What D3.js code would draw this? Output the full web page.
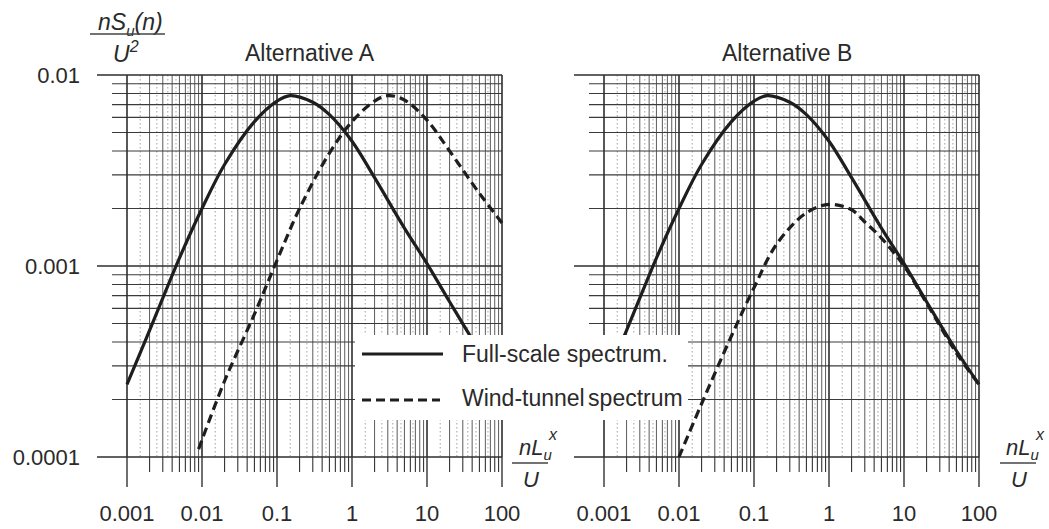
<!DOCTYPE html>
<html>
<head>
<meta charset="utf-8">
<script src="https://cdn.jsdelivr.net/npm/d3@7/dist/d3.min.js"></script>
<style>
  html, body { margin: 0; padding: 0; background: #fff; }
  svg { display: block; font-family: "Liberation Sans", Arial, Helvetica, sans-serif; }
</style>
</head>
<body>
<svg id="chart" width="1049" height="529"></svg>
<script>
// ---------------- data ----------------
const panelTitles = ["Alternative A", "Alternative B"];
const xTickValues = [0.001, 0.01, 0.1, 1, 10, 100];
const xTickLabels = ["0.001", "0.01", "0.1", "1", "10", "100"];
const yTickValues = [0.0001, 0.001, 0.01];
const yTickLabels = ["0.0001", "0.001", "0.01"];

// full-scale spectrum (same in both panels)
const fullScaleX = [0.001, 0.002, 0.005, 0.01, 0.02, 0.05, 0.1, 0.15, 0.3, 0.5, 1, 2, 5, 10, 20, 50, 100];
const fullScaleY = [0.00024, 0.00046, 0.0011, 0.002, 0.0034, 0.0057, 0.0073, 0.0078, 0.0072, 0.0062, 0.0045, 0.0029, 0.00158, 0.00103, 0.00065, 0.00036, 0.00024];

// wind-tunnel spectrum, alternative A
const tunnelAX = [0.009, 0.02, 0.05, 0.1, 0.2, 0.5, 1, 2, 3, 5, 10, 20, 50, 100];
const tunnelAY = [0.00011, 0.00025, 0.00056, 0.00107, 0.002, 0.0039, 0.0057, 0.0073, 0.0078, 0.0074, 0.0058, 0.004, 0.0024, 0.00168];

// wind-tunnel spectrum, alternative B
const tunnelBX = [0.01, 0.02, 0.05, 0.1, 0.2, 0.5, 1, 2, 3, 5, 10, 20, 50, 100];
const tunnelBY = [0.0001, 0.00019, 0.00043, 0.00077, 0.0013, 0.0019, 0.0021, 0.00197, 0.0017, 0.0014, 0.001, 0.00064, 0.00035, 0.00024];

const legendLabels = ["Full-scale spectrum.", "Wind-tunnel spectrum"];

// ---------------- drawing ----------------
const svg = d3.select("#chart");
const FONT = "'Liberation Sans', Arial, Helvetica, sans-serif";
const TXT = "#2a2a2a";
const INK = "#1e1e1e";

const yScale = d3.scaleLog().domain([0.0001, 0.01]).range([457, 75]);
const panels = [
  { left: 127, right: 502, tunnelX: tunnelAX, tunnelY: tunnelAY, yLabels: true },
  { left: 604, right: 979, tunnelX: tunnelBX, tunnelY: tunnelBY, yLabels: false }
];

const decades = [0.001, 0.01, 0.1, 1, 10];
const yDecades = [0.0001, 0.001];

panels.forEach((p, i) => {
  const x = d3.scaleLog().domain([0.001, 100]).range([p.left, p.right]);
  const g = svg.append("g");
  const yTop = yScale(0.01), yBot = yScale(0.0001);

  // fine dotted vertical lines
  const dotted = [];
  decades.forEach(d => [1.5, 2.5, 3.5, 4.5, 6.5].forEach(m => dotted.push(d * m)));
  g.selectAll(null).data(dotted).join("line")
    .attr("x1", d => x(d)).attr("x2", d => x(d))
    .attr("y1", yTop).attr("y2", yBot)
    .attr("stroke", "#8a8a8a").attr("stroke-width", 0.8).attr("stroke-dasharray", "1.5,2.5");

  // minor vertical lines
  const minorX = [];
  decades.forEach(d => d3.range(2, 10).forEach(m => minorX.push(d * m)));
  g.selectAll(null).data(minorX).join("line")
    .attr("x1", d => x(d)).attr("x2", d => x(d))
    .attr("y1", yTop).attr("y2", yBot)
    .attr("stroke", "#4a4a4a").attr("stroke-width", 0.9);

  // minor horizontal lines
  const minorY = [];
  yDecades.forEach(d => d3.range(2, 10).forEach(m => minorY.push(d * m)));
  g.selectAll(null).data(minorY).join("line")
    .attr("x1", p.left - 15).attr("x2", p.right)
    .attr("y1", d => yScale(d)).attr("y2", d => yScale(d))
    .attr("stroke", "#3a3a3a").attr("stroke-width", 1.1);

  // major vertical lines
  g.selectAll(null).data(xTickValues).join("line")
    .attr("x1", d => x(d)).attr("x2", d => x(d))
    .attr("y1", yTop).attr("y2", yBot)
    .attr("stroke", "#2e2e2e").attr("stroke-width", 1.6);

  // major horizontal lines
  g.selectAll(null).data(yTickValues).join("line")
    .attr("x1", p.left - 30).attr("x2", p.right)
    .attr("y1", d => yScale(d)).attr("y2", d => yScale(d))
    .attr("stroke", "#2e2e2e").attr("stroke-width", 1.7);

  // x axis ticks below
  g.selectAll(null).data(minorX).join("line")
    .attr("x1", d => x(d)).attr("x2", d => x(d))
    .attr("y1", yBot).attr("y2", yBot + 15)
    .attr("stroke", "#333").attr("stroke-width", 1.1);
  g.selectAll(null).data(xTickValues).join("line")
    .attr("x1", d => x(d)).attr("x2", d => x(d))
    .attr("y1", yBot).attr("y2", yBot + 30)
    .attr("stroke", "#333").attr("stroke-width", 1.4);

  // x tick labels
  g.selectAll(null).data(xTickValues).join("text")
    .attr("x", d => x(d)).attr("y", 521)
    .attr("text-anchor", "middle")
    .attr("font-family", FONT).attr("font-size", 22).attr("fill", TXT)
    .text((d, k) => xTickLabels[k]);

  // y tick labels
  if (p.yLabels) {
    g.selectAll(null).data(yTickValues).join("text")
      .attr("x", 80).attr("y", d => yScale(d) + 8)
      .attr("text-anchor", "end")
      .attr("font-family", FONT).attr("font-size", 22).attr("fill", TXT)
      .text((d, k) => yTickLabels[k]);
  }

  // title
  g.append("text")
    .attr("x", p.left + 118).attr("y", 61)
    .attr("font-family", FONT).attr("font-size", 23).attr("fill", TXT)
    .text(panelTitles[i]);

  const line = d3.line()
    .x(d => x(d[0])).y(d => yScale(d[1]))
    .curve(d3.curveCatmullRom.alpha(0.5));

  // wind-tunnel spectrum (dashed)
  g.append("path")
    .attr("d", line(d3.zip(p.tunnelX, p.tunnelY)))
    .attr("fill", "none").attr("stroke", INK).attr("stroke-width", 3.2)
    .attr("stroke-dasharray", "9,5");

  // full-scale spectrum (solid)
  g.append("path")
    .attr("d", line(d3.zip(fullScaleX, fullScaleY)))
    .attr("fill", "none").attr("stroke", INK).attr("stroke-width", 3.2);
});

// ---------------- legend ----------------
const lg = svg.append("g");
lg.append("rect").attr("x", 355).attr("y", 335).attr("width", 333).attr("height", 85).attr("fill", "#fff");
lg.append("line").attr("x1", 362).attr("x2", 443).attr("y1", 354).attr("y2", 354)
  .attr("stroke", INK).attr("stroke-width", 3.2);
lg.append("line").attr("x1", 362).attr("x2", 440).attr("y1", 400).attr("y2", 400)
  .attr("stroke", INK).attr("stroke-width", 3.2).attr("stroke-dasharray", "9,5");
lg.append("text").attr("x", 462).attr("y", 362)
  .attr("font-family", FONT).attr("font-size", 23).attr("fill", TXT).text(legendLabels[0]);
lg.append("text").attr("x", 462).attr("y", 406)
  .attr("font-family", FONT).attr("font-size", 23).attr("fill", TXT)
  .attr("word-spacing", -3).text(legendLabels[1]);

// ---------------- axis labels ----------------
// y label: nS_u(n) / U^2
const yl = svg.append("g").attr("font-family", FONT).attr("fill", TXT).attr("font-style", "italic");
const t1 = yl.append("text").attr("x", 98).attr("y", 30).attr("font-size", 23);
t1.append("tspan").text("nS");
t1.append("tspan").attr("dy", 6).attr("font-size", 15).text("u");
t1.append("tspan").attr("dy", -6).text("(n)");
yl.append("line").attr("x1", 90).attr("x2", 165).attr("y1", 34).attr("y2", 34)
  .attr("stroke", "#444").attr("stroke-width", 1.3);
const t2 = yl.append("text").attr("x", 113).attr("y", 62).attr("font-size", 23);
t2.append("tspan").text("U");
t2.append("tspan").attr("dy", -10).attr("font-size", 16).text("2");

// x labels: nL_u^x / U
[{ x: 519, lx1: 512, lx2: 548, ux: 523 }, { x: 1006, lx1: 1000, lx2: 1036, ux: 1011 }].forEach(o => {
  const xl = svg.append("g").attr("font-family", FONT).attr("fill", TXT).attr("font-style", "italic");
  const a = xl.append("text").attr("x", o.x).attr("y", 455).attr("font-size", 22);
  a.append("tspan").text("nL");
  a.append("tspan").attr("dy", 5).attr("font-size", 15).text("u");
  xl.append("text").attr("x", o.x + 30).attr("y", 440).attr("font-size", 16).text("x");
  xl.append("line").attr("x1", o.lx1).attr("x2", o.lx2).attr("y1", 463).attr("y2", 463)
    .attr("stroke", "#444").attr("stroke-width", 1.3);
  xl.append("text").attr("x", o.ux).attr("y", 487).attr("font-size", 22).text("U");
});
</script>
</body>
</html>
